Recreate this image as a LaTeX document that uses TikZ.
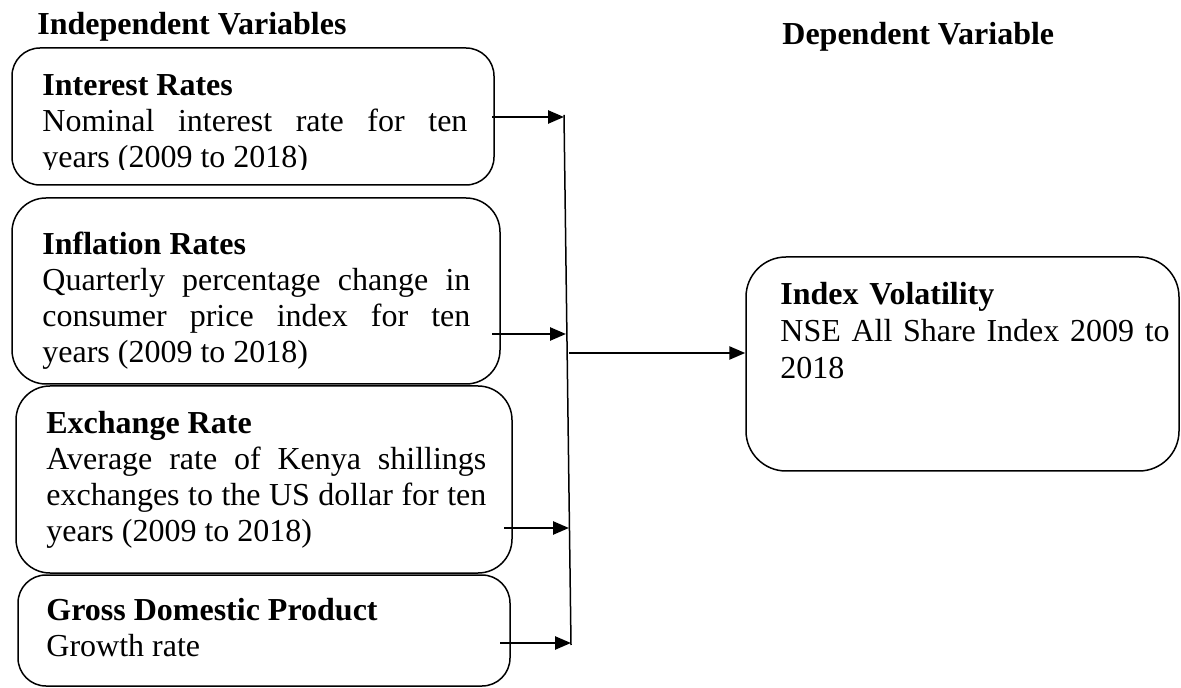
\documentclass[tikz,border=0pt]{standalone}
\usepackage{fontspec}
\setmainfont{Liberation Serif}
\usetikzlibrary{arrows.meta,fit}
\begin{document}
\begin{tikzpicture}[x=0.5pt,y=-0.5pt,
  box/.style={draw, line width=0.75pt, rounded corners=14pt, inner sep=0pt},
  txt/.style={anchor=base west, inner sep=0pt, align=justify,
    font=\fontsize{16}{18}\selectfont,
    execute at begin node={\hyphenpenalty=10000\relax\tolerance=10000\relax\parindent=0pt\relax}},
  txtl/.style={anchor=base west, inner sep=0pt, align=left, text width=210pt,
    font=\fontsize{16}{18.5}\selectfont},
  hdr/.style={anchor=base west, inner sep=0pt, font=\fontsize{16}{18}\selectfont\bfseries},
  arr/.style={-{Triangle[length=8pt,width=6.5pt]}, line width=1.25pt},
  bus/.style={line width=0.75pt}
]
\useasboundingbox (0,0) rectangle (1181,688);

% headers
\node[hdr] (hind) at (37,35) {Independent Variables};
\node[hdr] (hdep) at (782,45) {Dependent Variable};

% boxes
\node[box, fit={(12,48) (494,185)}] (box1) {};
\node[box, rounded corners=17pt, fit={(12,198) (500,384)}] (box2) {};
\node[box, rounded corners=17pt, fit={(16,386) (512,573)}] (box3) {};
\node[box, rounded corners=14pt, fit={(18,575) (510,686)}] (box4) {};
\node[box, rounded corners=20pt, fit={(746,257) (1179,471)}] (box5) {};

% texts
\begin{scope}
\clip (0,50) rectangle (600,170);
\node[txt, text width=212.5pt] (t1) at (42,96)
  {\textbf{Interest Rates}\par Nominal interest rate for ten\linebreak years (2009 to 2018)};
\end{scope}
\node[txt, text width=214pt] (t2) at (42,255)
  {\textbf{Inflation Rates}\par Quarterly percentage change in consumer price index for ten years (2009 to 2018)};
\node[txt, text width=220pt] (t3) at (46,434)
  {\textbf{Exchange Rate}\par Average rate of Kenya shillings exchanges to the US dollar for ten years (2009 to 2018)};
\node[txt, text width=220pt] (t4) at (46,620)
  {\textbf{Gross Domestic Product}\par Growth rate};
\node[txtl] (t5) at (780,305)
  {\textbf{Index Volatility}\\ NSE All Share Index 2009 to\\ 2018};

% bus line
\coordinate (bt) at (564,115);
\coordinate (bb) at (571,645);
\draw[bus] (bt) -- (bb);

% arrow endpoints
\coordinate (s1) at (492,117);
\coordinate (e1) at (564,117);
\coordinate (s2) at (492,334);
\coordinate (e2) at (566,334);
\coordinate (s3) at (504,528);
\coordinate (e3) at (569,528);
\coordinate (s4) at (500,643);
\coordinate (e4) at (571,643);
\coordinate (m) at (569,353);

\draw[arr] (s1) -- (e1);
\draw[arr] (s2) -- (e2);
\draw[arr] (s3) -- (e3);
\draw[arr] (s4) -- (e4);
\draw[arr] (m) -- (m -| box5.west);
\end{tikzpicture}
\end{document}
